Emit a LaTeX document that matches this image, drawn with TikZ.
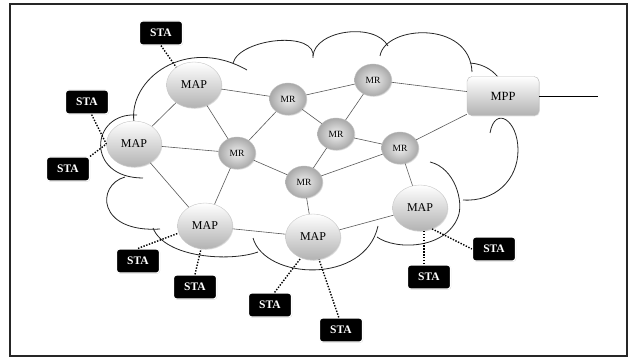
\documentclass[tikz,border=0pt]{standalone}
\usepackage{fontspec}
\setmainfont{Liberation Serif}
\usetikzlibrary{shapes.geometric,shadows}

\begin{document}
\begin{tikzpicture}[x=1pt,y=-1pt,
    mapnode/.style={ellipse, draw=gray!45, top color=white, bottom color=gray!60,
        minimum width=55pt, minimum height=46pt, inner sep=0pt,
        font=\fontsize{12}{12}\selectfont,
        drop shadow={shadow xshift=.8pt, shadow yshift=-.8pt, fill=gray!50, opacity=.5}},
    mrnode/.style={ellipse, draw=gray!50, inner color=gray!12, outer color=gray!68,
        minimum width=37pt, minimum height=32pt, inner sep=0pt,
        font=\fontsize{9.5}{9.5}\selectfont,
        drop shadow={shadow xshift=.8pt, shadow yshift=-.8pt, fill=gray!50, opacity=.5}},
    mppbox/.style={rectangle, rounded corners=5pt, draw=gray!55, top color=white, bottom color=gray!60,
        minimum width=72pt, minimum height=39pt, inner sep=0pt,
        font=\fontsize{12.5}{12.5}\selectfont,
        drop shadow={shadow xshift=.8pt, shadow yshift=-.8pt, fill=gray!50, opacity=.5}},
    stabox/.style={rectangle, rounded corners=3pt, fill=black, draw=white, line width=1.2pt,
        text=white, minimum width=43pt, minimum height=24pt, inner sep=0pt,
        font=\fontsize{11.5}{11.5}\selectfont\bfseries,
        drop shadow={shadow xshift=.6pt, shadow yshift=-.6pt, fill=gray!60, opacity=.7}},
    link/.style={draw=black!65, line width=.6pt},
    wifi/.style={draw=black, line width=1.4pt, dash pattern=on 1.4pt off 1.5pt},
    cloudline/.style={draw=black!85, line width=.8pt}]

    \useasboundingbox (0,0) rectangle (628,358);
    \draw[line width=1.2pt, draw=black!85] (10,4) rectangle (627,356);

    % cloud
    \draw[cloudline] (134,122) .. controls (128,80) and (185,35) .. (247,70);
    \draw[cloudline] (233,63) .. controls (240,38) and (318,30) .. (313,58);
    \draw[cloudline] (313,56) .. controls (315,30) and (375,22) .. (388,46);
    \draw[cloudline] (380,56) .. controls (385,25) and (470,20) .. (472,72);
    \draw[cloudline] (470,63) .. controls (485,64) and (495,72) .. (500,80);
    \draw[cloudline] (137,115) .. controls (90,112) and (85,178) .. (143,178);
    \draw[cloudline] (125,177) .. controls (96,185) and (97,233) .. (160,229);
    \draw[cloudline] (153,228) .. controls (165,258) and (230,262) .. (258,252);
    \draw[cloudline] (253,238) .. controls (265,280) and (365,285) .. (378,226);
    \draw[cloudline] (377,237) .. controls (395,250) and (445,250) .. (458,217)
        .. controls (464,202) and (455,168) .. (430,162);
    \draw[cloudline] (463,200) .. controls (495,202) and (518,180) .. (518,150)
        .. controls (518,120) and (495,105) .. (490,133);

    % mesh
    \node[mapnode] (map1) at (194,85) {MAP};
    \node[mapnode] (map2) at (134,144) {MAP};
    \node[mapnode] (map3) at (205,226) {MAP};
    \node[mapnode] (map4) at (313,237) {MAP};
    \node[mapnode] (map5) at (420,208) {MAP};
    \node[mrnode] (mr1) at (288,99) {MR};
    \node[mrnode] (mr2) at (237,153) {MR};
    \node[mrnode] (mr3) at (373,80) {MR};
    \node[mrnode] (mr4) at (336,134) {MR};
    \node[mrnode] (mr5) at (400,148) {MR};
    \node[mrnode] (mr6) at (304,182) {MR};
    \node[mppbox] (mpp) at (503,96) {MPP};
    \coordinate (wan) at (598,96);

    \draw[link] (map1) -- (mr1);
    \draw[link] (map1) -- (mr2);
    \draw[link] (map1) -- (map2);
    \draw[link] (map2) -- (mr2);
    \draw[link] (map2) -- (map3);
    \draw[link] (mr1) -- (mr3);
    \draw[link] (mr1) -- (mr2);
    \draw[link] (mr1) -- (mr4);
    \draw[link] (mr3) -- (mr4);
    \draw[link] (mr3) -- (mpp);
    \draw[link] (mr4) -- (mr5);
    \draw[link] (mr4) -- (mr6);
    \draw[link] (mr5) -- (mpp);
    \draw[link] (mr5) -- (mr6);
    \draw[link] (mr5) -- (map5);
    \draw[link] (mr2) -- (mr6);
    \draw[link] (mr2) -- (map3);
    \draw[link] (mr6) -- (map4);
    \draw[link] (map3) -- (map4);
    \draw[link] (map4) -- (map5);
    \draw[line width=.9pt] (mpp) -- (wan);

    % stations
    \node[stabox] (sta1) at (161,33) {STA};
    \node[stabox] (sta2) at (87,102) {STA};
    \node[stabox] (sta3) at (68,169) {STA};
    \node[stabox] (sta4) at (138,261) {STA};
    \node[stabox] (sta5) at (195,287) {STA};
    \node[stabox] (sta6) at (270,305) {STA};
    \node[stabox] (sta7) at (341,330) {STA};
    \node[stabox] (sta8) at (429,277) {STA};
    \node[stabox] (sta9) at (494,249) {STA};

    \draw[wifi] (sta1.south) -- (map1.135);
    \draw[wifi] (sta2.-70) -- (map2.180);
    \draw[wifi] (sta3.north east) -- (map2.west);
    \draw[wifi] (sta4.north) -- (map3.195);
    \draw[wifi] (sta5.north) -- (map3.260);
    \draw[wifi] (sta6.70) -- (map4.240);
    \draw[wifi] (sta7.100) -- (map4.285);
    \draw[wifi] (map5.280) -- (map5.280 |- sta8.north);
    \draw[wifi] (map5.300) -- (sta9.west);
\end{tikzpicture}
\end{document}
